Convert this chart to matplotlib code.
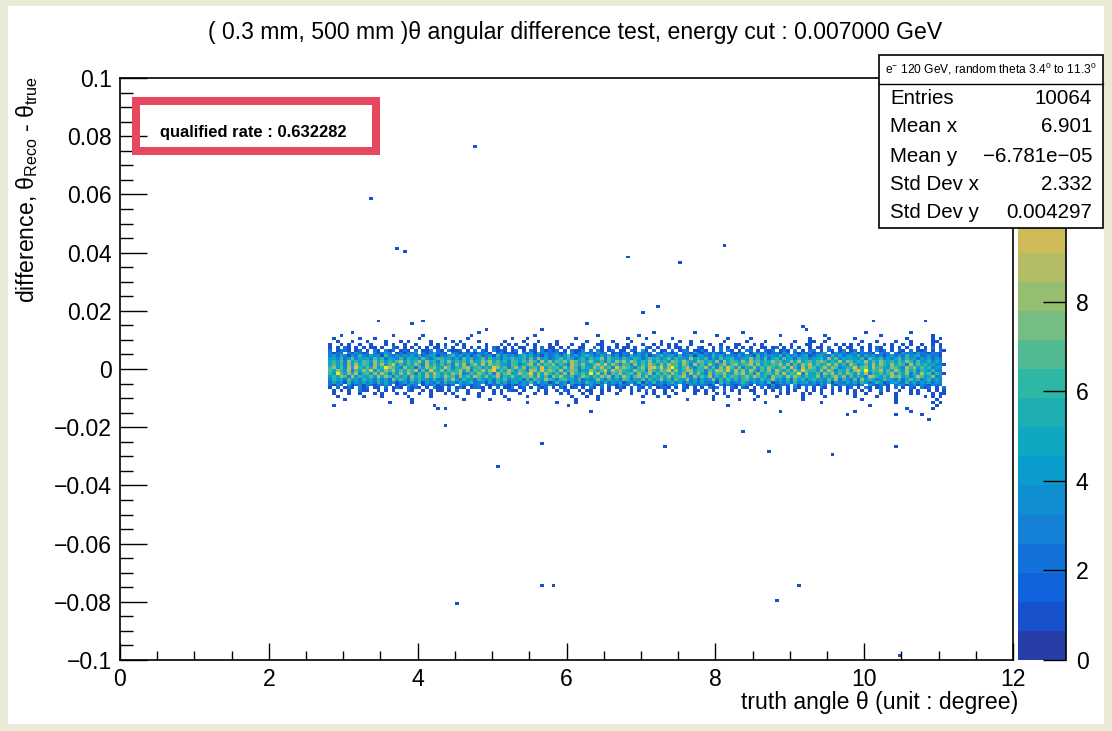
import numpy as np
import matplotlib
matplotlib.use("Agg")
import matplotlib.pyplot as plt
from matplotlib.colors import ListedColormap, BoundaryNorm, LinearSegmentedColormap
from matplotlib.patches import Rectangle
from matplotlib.ticker import MultipleLocator, FuncFormatter

plt.rcParams['font.family'] = ['Liberation Sans', 'DejaVu Sans']
plt.rcParams['mathtext.fontset'] = 'custom'
plt.rcParams['mathtext.rm'] = 'Liberation Sans'
plt.rcParams['mathtext.it'] = 'Liberation Sans'
plt.rcParams['mathtext.bf'] = 'Liberation Sans:bold'

# ---------------- text ----------------
title = "( 0.3 mm, 500 mm )\u03b8 angular difference test, energy cut : 0.007000 GeV"
x_label = "truth angle \u03b8 (unit : degree)"
y_label = r"difference, $\theta_{\mathrm{Reco}}$ - $\theta_{\mathrm{true}}$"
stats_title = r"e$^{-}$ 120 GeV, random theta 3.4$^{0}$ to 11.3$^{0}$"
stats_names = ["Entries", "Mean x", "Mean y", "Std Dev x", "Std Dev y"]
stats_values = ["10064", "6.901", "\u22126.781e\u221205", "2.332", "0.004297"]
rate_text = "qualified rate : 0.632282"

# ---------------- histogram binning ----------------
x_range = (0.0, 12.0)
x_nbins = 240
y_range = (-0.1, 0.1)
y_nbins = 200

# dense band: one string per y-bin row (top row first), one char per x-bin
# '.' = empty, digits / a-d = bin content (hex)
band_x_start = 2.80
band_y_top = 0.013
band_rows = [
    "......1... .......... .......... .......... 1......... .......... .......... .......... .......1.. ........1. .......... .1........ .......... .......... ....1..... ......1... ......",
    "...1...... .......1.. .....1.... ........1. .......... .....1.... .......... ..1....... ...1...... .......... ....1..... .......... .1........ ...1...... ........1. .......... ..1...",
    ".1......1. ..1....... ....1..... .1.....1.. .........1 ...1...... ......1... .......... 1....1.... ..1....... .......1.. ...1...... .........1 ....1..... .1........ .....1.... ..1.1.",
    "..1...1... 1....1...1 .1.....1.. ...1.1.... 1......1.. ..1...1... .1.......1 ...1..1... .1.......1 ....1..1.. 1.....1... ..1....1.. .....1...1 1..1...... ...1...1.. ..1...1... ..11..",
    "1..1.1..1. .1...1.1.. 1..1...1.1 .1..1.1... ..1...1.1. 1..1.1...1 .1...1..1. ..11...1.. 1...1..1.1 .1.1...1.. ..1..1...1 1...1.1... .1..1...11 ..1...1.1. 1.1..1...1 .1..1.1..1 ..1.1.",
    "1.1.21.1.1 .11.1..21. 1.1.1.1.11 .2.1..1.1. 1.1.21.1.1 .11..1.2.1 1.1.1..11. .2.1.1.1.1 1.1..21.1. .1.11.1..2 1..1.2.1.1 .1.1..11.1 2.1.1.1..1 .11.2..1.1 1..1.1.21. .1.1.1..1. 1.2.1.",
    "2.1321.12. 1.21.312.1 21.2.113.2 1.2112.1.3 .21.3121.1 2.1.21.312 12.1.2113. 2.31.12.11 .21.41.2.1 1.2.132.11 21.1.2.31. 1.32.1.212 .121.3.1.2 2.1.21.13. 12.2.1.312 .1.21.2.11 2.1.21",
    "3122.31421 2.31243.12 1324.21352 21.3214231 3241.23121 1.32415232 2312.31242 31423.1213 2.14232.31 4213.23152 1324213.21 23.1532412 3142.21323 1235.14231 2413221.32 3.21423142 21321.",
    "3425314263 2534163243 4352623451 3246352413 5234162534 2463523142 3524734256 4235362413 2634251346 3452623514 4326352432 5243162534 3625342451 2453263524 4362534231 3524263452 24231.",
    "4536247354 5374625436 3645374256 6453527463 4736452547 5463738452 3574652463 6458374536 4365247563 5736453846 4625374563 3548463725 6374526453 4563847354 5436275463 4357364524 35242.",
    "5647385647 6485746579 4756948563 7584657485 5869574637 6475863958 4768597465 8546374869 5974658475 6487596548 7564839576 4859674658 6745859467 5786465948 7465947586 5647586374 46353.",
    "5746384957 6385947a46 4758639574 7463859368 5948675437 6357948576 8465397584 4796a58637 6384759648 5967486395 7485369478 4679584657 6958374869 5746958463 8635749586 4857639475 645331",
    "6847395a65 75946c8753 8562749685 5a73658946 7465b85736 9583674a57 6748596375 4869573a68 7536849a6b 58d6479536 6947385a74 8365947586 5784a63958 7469587346 6a57849675 4875396847 56344.",
    "7586493758 6a47586947 5869374a65 8475695837 6958b47596 4763985a68 7594687354 8657a49786 5486739658 7a58469847 6375986a59 5849637584 9657485b76 6485973658 48a6d57694 7596485736 54633.",
    "64c7485936 7485963748 5963748596 4758693475 8647395784 5967b48596 4758396475 d594837695 6748569374 7596483958 5384769548 6957384675 849576c385 5738694758 7485936574 6947583649 573641",
    "4658739465 5749586374 6385749586 4967385749 7584693658 5476859473 8695473586 4758693749 6379584657 5846795384 7593648576 4685975638 6749586475 5836479583 7465398647 5978463597 45834.",
    "3645274536 4536352847 5274645363 3758436452 6435264735 4526375486 5367453624 3485264537 6254736458 4637548352 5348263746 3674536458 4536274635 6453748264 3728465347 5436257463 46353.",
    "2534162435 3426352413 4253614325 2634253462 3415263524 5243726341 2634153426 4352624351 3526143624 2463525342 5324163523 3642534261 2435263452 4253614325 3526423641 2453263524 35243.",
    "2132.41231 3213242.12 1423.13241 2312.42312 3.21324213 1342.21324 2134.31213 4213.23142 2.31423123 1324.21432 3212.41321 2431.23214 1232.41323 3142.21342 2313.42132 1.24312413 21322.",
    "1.2.121.31 2.11.2.121 .3121.1.21 1.2.131.12 21.1.2.113 .12.1.312. 1.21.12.1. 31.2.1.121 .1.21.3.12 21.1.21.1. 1.312.1.21 .21.1.2.13 12.1.31.2. 1.21.2.1.1 2.1.31.12. 1.2.1.21.3 12.1.2",
    ".1.1.1..21 1..1.1.1.. .21..1.1.1 1.1.2..1.. .1..1.1.21 1.1...1.1. .1.21..1.1 1..1.1..1. .1.1.2.1.. 1.1..1..11 .1.1..2.1. 1..11..1.1 .2.1.1..1. 1.1..1.1.1 .1.1.1..2. 1..1..1.1. .1.1.1",
    ".1...1..1. ..1.1...1. 1...1..1.. .1.1...1.. 1...1.1... .1...1..1. ..1.1...1. 1..1...1.. .1...1.1.. 1..1....1. .1..1.1... 1...1..1.. .1.1...1.1 ..1..1...1 .1..1...1. ..1...1.1. ..1.11",
    "..1......1 ....1..... .1.....1.. ....1..... 1......1.. ...1...... .....1...1 ..1....... ....1...1. .1........ ...1...1.. .....1.... 1......1.. ...1...... .1.....1.. ..1....... 1.1.1.",
    "....1..... .......... ..1....... ......1... ...1....1. .......... ......1... ..1....... .......... ......1... ...1...... 1...1..... .......1.. .......... ...1...... ..1....... ...1..",
    ".......... ......1... ..1....... .......... .......... ...1...... .1....1... .......... ....1..... .......... .......... .......1.. .......... ..1....... .......... ..1....... ..1.1.",
    ".1........ .......... ........1. .......... .......... .......... ....1..... .......... .......... .......... .......1.. .......... .......... .......... .....1.... .......... ...1..",
]

# isolated entries outside the band (truth angle [deg], difference)
outlier_x = [4.785, 3.39, 3.74, 3.82, 6.84, 7.55, 8.13, 7.23, 7.04,
             3.48, 3.91, 4.10, 4.93, 5.65, 6.26, 9.20, 9.23, 10.11, 10.82,
             4.26, 4.36, 4.39, 6.32, 8.85, 9.76, 9.87, 10.43, 10.56, 10.64,
             10.79, 10.87, 10.93, 5.65, 5.07, 7.31, 8.37, 8.71, 9.57, 10.44,
             5.65, 5.82, 4.53, 8.80, 9.10, 10.46]
outlier_y = [0.0763, 0.0588, 0.0419, 0.0402, 0.0381, 0.0368, 0.0426, 0.0216, 0.0193,
             0.0161, 0.0152, 0.0169, 0.0139, 0.0132, 0.0155, 0.0145, 0.0134, 0.0161, 0.0169,
             -0.0134, -0.0134, -0.0191, -0.0143, -0.0143, -0.0151, -0.0143, -0.0158, -0.0138, -0.0141,
             -0.0151, -0.0179, -0.0135, -0.0254, -0.0333, -0.0261, -0.0213, -0.0285, -0.0296, -0.0268,
             -0.0749, -0.0742, -0.0804, -0.0797, -0.0742, -0.0983]

x_major, x_minor = 2.0, 0.5
y_major, y_minor = 0.02, 0.005
z_tick_step = 2

# ROOT kBird palette
bird_stops = [0.0, 0.125, 0.25, 0.375, 0.5, 0.625, 0.75, 0.875, 1.0]
bird_r = [0.2082, 0.0592, 0.0780, 0.0232, 0.1802, 0.5301, 0.8186, 0.9956, 0.9764]
bird_g = [0.1664, 0.3599, 0.5041, 0.6419, 0.7178, 0.7492, 0.7328, 0.7862, 0.9832]
bird_b = [0.5293, 0.8684, 0.8385, 0.7914, 0.6425, 0.4662, 0.3499, 0.1968, 0.0539]
n_contours = 20

# ---------------- build histogram ----------------
x_edges = np.linspace(x_range[0], x_range[1], x_nbins + 1)
y_edges = np.linspace(y_range[0], y_range[1], y_nbins + 1)
dx = x_edges[1] - x_edges[0]
dy = y_edges[1] - y_edges[0]
cx, cy, cw = [], [], []
for k, row in enumerate(band_rows):
    s = row.replace(" ", "")
    yc = band_y_top - (k + 0.5) * dy
    for c, ch in enumerate(s):
        if ch != '.':
            cx.append(band_x_start + (c + 0.5) * dx)
            cy.append(yc)
            cw.append(int(ch, 16))
H_band, _, _ = np.histogram2d(cx, cy, bins=[x_edges, y_edges], weights=cw)
H_out, _, _ = np.histogram2d(outlier_x, outlier_y, bins=[x_edges, y_edges])
Hc = (H_band + H_out).T
zmax = Hc.max()

bird = LinearSegmentedColormap.from_list(
    "bird", list(zip(bird_stops, zip(bird_r, bird_g, bird_b))))
cols = [bird(min((i + 0.99) / n_contours, 1.0)) for i in range(n_contours)]
cmap = ListedColormap(cols)
cmap.set_over(cols[-1])
norm = BoundaryNorm(np.linspace(0, zmax, n_contours + 1), n_contours)

# ---------------- figure ----------------
W, Hpx = 1112, 731
PT = 72.0 / 100.0  # points per pixel
fig = plt.figure(figsize=(W / 100, Hpx / 100), dpi=100)
fig.patch.set_facecolor("#e9ebd7")
fig.add_artist(Rectangle((8 / W, 7 / Hpx), (W - 16) / W, (Hpx - 13) / Hpx,
                         transform=fig.transFigure, facecolor="white",
                         edgecolor="none", zorder=-10))

fl, fr, ft, fb = 120, 1013, 78, 660
ax = fig.add_axes([fl / W, 1 - fb / Hpx, (fr - fl) / W, (fb - ft) / Hpx])
mesh = ax.pcolormesh(x_edges, y_edges, np.ma.masked_where(Hc <= 0, Hc),
                     cmap=cmap, norm=norm, shading='flat',
                     antialiased=False, linewidth=0)
ax.set_xlim(*x_range)
ax.set_ylim(*y_range)
ax.xaxis.set_major_locator(MultipleLocator(x_major))
ax.xaxis.set_minor_locator(MultipleLocator(x_minor))
ax.yaxis.set_major_locator(MultipleLocator(y_major))
ax.yaxis.set_minor_locator(MultipleLocator(y_minor))


def yfmt(v, _):
    v = round(v, 6)
    if v == 0:
        return "0"
    return ("%g" % v).replace("-", "\u2212")


ax.yaxis.set_major_formatter(FuncFormatter(yfmt))
ax.xaxis.set_major_formatter(FuncFormatter(lambda v, _: "%g" % v))
lab_size = 23 * PT
ax.tick_params(axis='x', which='major', direction='in', length=17.5 * PT,
               width=1.0, labelsize=lab_size, pad=6, top=False)
ax.tick_params(axis='x', which='minor', direction='in', length=8.7 * PT,
               width=1.0, top=False)
ax.tick_params(axis='y', which='major', direction='in', length=27 * PT,
               width=1.0, labelsize=lab_size, pad=6, right=False)
ax.tick_params(axis='y', which='minor', direction='in', length=13.5 * PT,
               width=1.0, right=False)
for sp in ax.spines.values():
    sp.set_linewidth(1.2)

# stats box geometry (pixels)
sb_x0, sb_y0, sb_w, sb_h = 879, 55, 224, 173

# colour bar (the upper part lies under the stats box, as in ROOT)
cl, cr = 1018, 1066
cax = fig.add_axes([cl / W, 1 - fb / Hpx, (cr - cl) / W, (fb - ft) / Hpx])
z_ticks = np.arange(0, zmax + 0.01, z_tick_step)
cb = fig.colorbar(mesh, cax=cax, ticks=z_ticks)
cb.outline.set_visible(False)
cb.minorticks_off()
cax.yaxis.set_ticks_position('right')


def zfmt(v, _):
    # labels that would sit under the opaque stats box are not drawn
    ypix = fb - (v / zmax) * (fb - ft)
    return "" if ypix < sb_y0 + sb_h else "%g" % v


cax.yaxis.set_major_formatter(FuncFormatter(zfmt))
cax.tick_params(axis='y', direction='in', length=23 * PT, width=1.0,
                labelsize=lab_size, pad=7)
cax.spines['right'].set_visible(True)
cax.spines['right'].set_linewidth(1.2)

# overlay in pixel coordinates for labels and boxes
ov = fig.add_axes([0, 0, 1, 1])
ov.set_xlim(0, W)
ov.set_ylim(Hpx, 0)
ov.axis('off')
ov.patch.set_alpha(0)
ov.set_zorder(10)

ov.text(575, 33, title, ha='center', va='center', fontsize=23 * PT)
ov.text(27, 76, y_label, rotation=90, ha='center', va='top', fontsize=23 * PT)
ov.text(1018, 702, x_label, ha='right', va='center', fontsize=23 * PT)

# stats box
ov.add_patch(Rectangle((sb_x0, sb_y0), sb_w, sb_h, facecolor='white',
                       edgecolor='black', lw=1.2))
ov.plot([sb_x0, sb_x0 + sb_w], [84, 84], color='black', lw=1.0)
ov.text(sb_x0 + sb_w / 2, 69, stats_title, ha='center', va='center',
        fontsize=12 * PT)
row_y = [98, 127, 156, 185, 213]
for name, val, yy in zip(stats_names, stats_values, row_y):
    ov.text(890, yy, name, ha='left', va='center', fontsize=20.5 * PT)
    ov.text(1092, yy, val, ha='right', va='center', fontsize=20.5 * PT)

# qualified rate box
ov.add_patch(Rectangle((136, 101), 240, 50, fill=False,
                       edgecolor='#e8485f', lw=8 * PT))
ov.text(160, 133, rate_text, ha='left', va='center', fontsize=16.5 * PT,
        fontweight='bold')

fig.savefig("out.png", dpi=100, facecolor=fig.get_facecolor())
